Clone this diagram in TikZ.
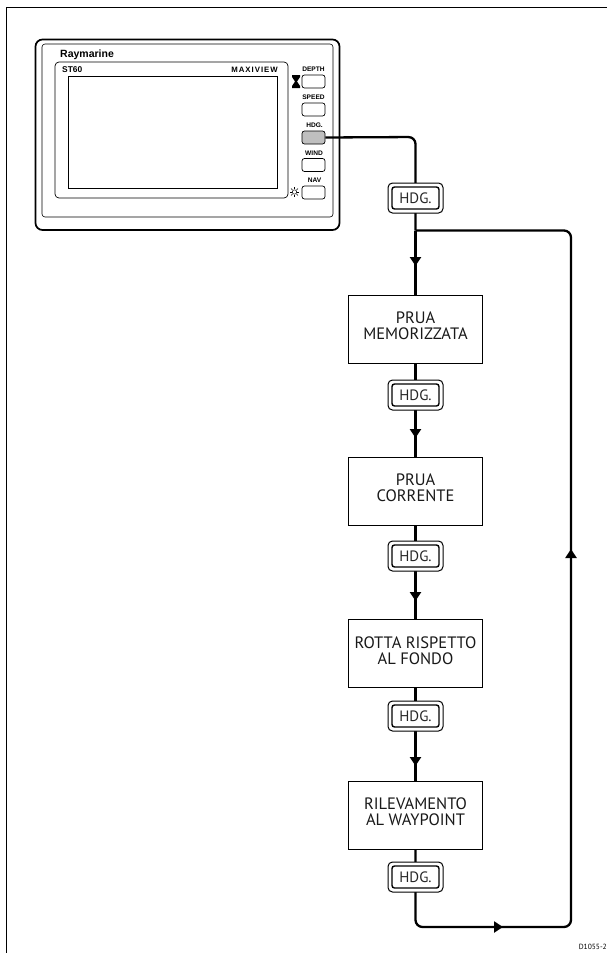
\documentclass[tikz,border=0pt]{standalone}
\usepackage{fontspec}
\setmainfont{PT Sans}
\newfontfamily\hel{Liberation Sans}
\usetikzlibrary{arrows.meta}
\tikzset{
  x=1pt,y=-1pt,
  flowline/.style={line width=2.3pt,line join=round},
  tip/.style={-{Triangle[length=9pt,width=11pt]}},
  statebox/.style={draw,line width=1pt,minimum width=134pt,minimum height=68pt,inner sep=0pt,align=center,text depth=6pt,font=\fontsize{16.5}{16}\selectfont,text=black!90,fill=white},
  keyouter/.style={draw,line width=1pt,rounded corners=4.5pt,minimum width=55pt,minimum height=30pt,fill=white,inner sep=0pt},
  keyinner/.style={draw,line width=1.4pt,rounded corners=2.5pt,minimum width=47pt,minimum height=22pt,inner sep=0pt,font=\fontsize{15}{14}\selectfont,text=black!85,fill=white},
  panelbtn/.style={draw,line width=0.7pt,rounded corners=2.5pt,minimum width=23pt,minimum height=13pt,inner sep=0pt},
  paneltext/.style={font=\hel\bfseries\fontsize{6.6}{6.6}\selectfont,inner sep=0pt},
}
\begin{document}
\begin{tikzpicture}
\useasboundingbox (0,0) rectangle (607,953);
\fill[white] (0,0) rectangle (607,953);
\draw[line width=1pt] (6,953) -- (6,7) -- (607,7);
% panel
\draw[line width=1.7pt,rounded corners=7pt] (35.5,39.5) rectangle (339.5,230);
\draw[line width=0.6pt,rounded corners=3pt] (42,44) rectangle (333,217);
\draw[line width=0.7pt,rounded corners=4pt] (55,62) rectangle (288,198);
\draw[line width=0.8pt] (68,76) rectangle (277,188);
\node[paneltext,anchor=west,font=\hel\bfseries\fontsize{10.5}{10.5}\selectfont] (brand) at (60,55) {Raymarine};
\node[paneltext,anchor=west,font=\hel\bfseries\fontsize{8.4}{8.4}\selectfont] (model) at (62,69.5) {ST60};
\node[paneltext,anchor=east,font=\hel\bfseries\fontsize{7.8}{7.8}\selectfont] (maxi) at (278,69.5) {M\kern1pt A\kern1pt X\kern1pt I\kern1pt V\kern1pt I\kern1pt E\kern1pt W};
\node[paneltext] (ldepth) at (313.5,69) {DEPTH};
\node[panelbtn] (bdepth) at (313.5,81.5) {};
\node[paneltext] (lspeed) at (313.5,97) {SPEED};
\node[panelbtn] (bspeed) at (313.5,109.5) {};
\node[paneltext] (lhdg) at (314.5,125.5) {HDG.};
\node[panelbtn,fill=black!25] (bhdg) at (313.5,137.5) {};
\node[paneltext] (lwind) at (314,153) {WIND};
\node[panelbtn] (bwind) at (313.5,165) {};
\node[paneltext] (lnav) at (314.5,180) {NAV};
\node[panelbtn] (bnav) at (313.5,192.5) {};
% hourglass
\fill (292,75) -- (300,75) -- (300,77) -- (297,81.5) -- (300,86) -- (300,88) -- (292,88) -- (292,86) -- (295,81.5) -- (292,77) -- cycle;
% sun
\draw[line width=0.5pt] (294.5,192) circle (2.2pt);
\foreach \a in {0,45,...,315}{\draw[line width=0.5pt] (294.5,192) ++(\a:2.8pt) -- ++(\a:2pt);}
% coordinates
\coordinate (turnA) at (415.5,137);
\coordinate (branch) at (415.5,230.5);
\coordinate (cornerB) at (571,230.5);
\coordinate (cornerC) at (571,927);
\coordinate (cornerD) at (415.5,927);
\coordinate (tipA) at (415.5,266);
\coordinate (tipB) at (415.5,438);
\coordinate (tipC) at (415.5,601);
\coordinate (tipD) at (415.5,766);
\coordinate (tipE) at (503,927);
\coordinate (tipF) at (571,549);
% nodes
\node[statebox] (s1) at (415.5,329) {PRUA\\MEMORIZZATA};
\node[statebox] (s2) at (415.5,491) {PRUA\\CORRENTE};
\node[statebox] (s3) at (415.5,653.5) {ROTTA RISPETTO\\AL FONDO};
\node[statebox] (s4) at (415.5,815) {RILEVAMENTO\\AL WAYPOINT};
% lines
\draw[flowline,rounded corners=7pt] (bhdg.east) -- (turnA) -- (branch);
\draw[flowline] (branch) -- (s1.north);
\draw[flowline,tip] (branch) -- (tipA);
\draw[flowline] (s1) -- (s2);
\draw[flowline,tip] (s1.south) -- (tipB);
\draw[flowline] (s2) -- (s3);
\draw[flowline,tip] (s2.south) -- (tipC);
\draw[flowline] (s3) -- (s4);
\draw[flowline,tip] (s3.south) -- (tipD);
\draw[flowline,rounded corners=7pt] (s4.south) -- (cornerD) -- (cornerC) -- (cornerB) -- (branch);
\draw[flowline,tip] (cornerD) ++(30,0) -- (tipE);
\draw[flowline,tip] (cornerC) ++(0,-100) -- (tipF);
\foreach \n/\y in {ka/198,kb/395,kc/556,kd/716,ke/877}{
  \node[keyouter] (\n o) at (415.5,\y) {};
  \node[keyinner] (\n) at (415.5,\y) {HDG.};
}
\node[anchor=east,inner sep=0pt,font=\fontsize{7.5}{7.5}\selectfont] (ref) at (607,947) {D1055-2};
\end{tikzpicture}
\end{document}
